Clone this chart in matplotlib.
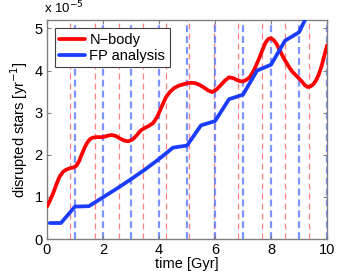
import matplotlib
matplotlib.use("Agg")
import matplotlib.pyplot as plt

plt.rcParams['font.family'] = ['Liberation Sans', 'DejaVu Sans']
plt.rcParams['font.size'] = 10.5

# data (values in units of 1e-5 / yr)
nbody_t = [0, 0.1, 0.23, 0.35, 0.45, 0.58, 0.7, 0.82, 0.95, 1.05, 1.15, 1.25, 1.35, 1.45,
           1.55, 1.65, 1.8, 2.0, 2.15, 2.3, 2.45, 2.6, 2.75, 2.9, 3.05, 3.2, 3.35, 3.5, 3.65,
           3.8, 3.95, 4.1, 4.25, 4.4, 4.55, 4.7, 4.85, 5.0, 5.15, 5.3, 5.45, 5.6, 5.75, 5.9,
           6.05, 6.2, 6.35, 6.5, 6.65, 6.8, 6.95, 7.1, 7.25, 7.4, 7.55, 7.7, 7.8, 7.9, 8.0,
           8.1, 8.2, 8.3, 8.45, 8.6, 8.75, 8.9, 9.05, 9.2, 9.3, 9.4, 9.5, 9.6, 9.7, 9.8, 9.9,
           10.0]
nbody_y = [0.77, 0.9, 1.1, 1.32, 1.48, 1.6, 1.65, 1.68, 1.70, 1.74, 1.85, 2.02, 2.18, 2.30,
           2.38, 2.41, 2.42, 2.42, 2.45, 2.47, 2.45, 2.39, 2.34, 2.32, 2.36, 2.46, 2.58, 2.64,
           2.69, 2.76, 2.92, 3.15, 3.37, 3.50, 3.59, 3.64, 3.67, 3.70, 3.71, 3.70, 3.66, 3.60,
           3.53, 3.49, 3.55, 3.65, 3.76, 3.84, 3.82, 3.77, 3.74, 3.77, 3.85, 4.02, 4.25, 4.5,
           4.66, 4.75, 4.77, 4.72, 4.63, 4.5, 4.3, 4.13, 3.98, 3.88, 3.78, 3.66, 3.61, 3.62,
           3.67, 3.76, 3.90, 4.1, 4.35, 4.6]

fp_t = [0.1, 0.5, 1.0, 1.5, 2.0, 2.5, 3.0, 3.5, 4.0, 4.5, 5.0, 5.5, 6.0, 6.5, 7.0, 7.5, 8.0,
        8.5, 9.0, 9.5]
fp_y = [0.38, 0.38, 0.77, 0.78, 0.99, 1.2, 1.42, 1.65, 1.9, 2.17, 2.22, 2.70, 2.80, 3.32, 3.43,
        4.0, 4.14, 4.71, 4.91, 5.6]

red_marks = [0.83, 1.70, 2.56, 3.42, 4.25, 5.08, 5.95, 6.81, 7.67, 8.51, 9.36]
blue_marks = [1, 2, 3, 4, 5, 6, 7, 8, 9, 10]

xticks = [0, 2, 4, 6, 8, 10]
yticks = [0, 1, 2, 3, 4, 5]

fig = plt.figure(figsize=(3.61, 2.71), dpi=100)
ax = fig.add_axes([0.130, 0.118, 0.776, 0.808])

for x in red_marks:
    ax.axvline(x, color='#ff5555', alpha=0.75, lw=0.9, ls=(0, (4.8, 3.2)), zorder=1)
for x in blue_marks:
    ax.axvline(x, color='#5070ff', alpha=0.75, lw=1.6, ls=(0, (3.1, 1.8)), zorder=1)

ax.plot(nbody_t, nbody_y, color='#ff0000', lw=2.7, label='N\u2212body', zorder=3,
        solid_joinstyle='round', solid_capstyle='round')
ax.plot(fp_t, fp_y, color='#1a3cff', lw=2.7, label='FP analysis', zorder=3,
        solid_joinstyle='round', solid_capstyle='round')

ax.set_xlim(0, 10)
ax.set_ylim(0, 5.2)
ax.set_xticks(xticks)
ax.set_yticks(yticks)
ax.set_xticklabels([str(v) for v in xticks])
ax.set_yticklabels([str(v) for v in yticks])
ax.tick_params(direction='in', top=True, right=True, length=3, color='#808080', pad=3)
for s in ax.spines.values():
    s.set_color('#808080')
    s.set_linewidth(1.0)

ax.set_xlabel('time [Gyr]', labelpad=0)
ax.set_ylabel('disrupted stars [yr$^{-1}$]', labelpad=3)
ax.text(-0.01, 1.015, 'x 10$^{-5}$', transform=ax.transAxes, ha='left', va='bottom', fontsize=9.5)

leg = ax.legend(loc='upper left', bbox_to_anchor=(0.029, 0.962), fancybox=False,
                framealpha=1, edgecolor='#404040', handlelength=1.75, handletextpad=0.3,
                borderpad=0.3, labelspacing=0.15, borderaxespad=0)
leg.get_frame().set_linewidth(0.8)

fig.savefig('out.png', dpi=100)
